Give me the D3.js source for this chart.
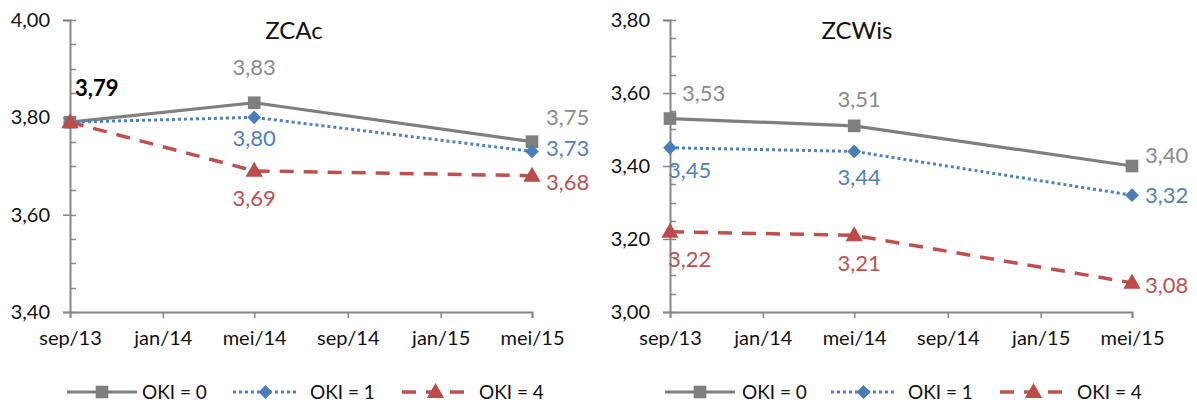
<!DOCTYPE html>
<html>
<head>
<meta charset="utf-8">
<script src="https://cdn.jsdelivr.net/npm/d3@7/dist/d3.min.js"></script>
<style>
  html, body { margin: 0; padding: 0; background: #fff; }
  svg { display: block; font-family: Lato, "Open Sans", sans-serif; }
</style>
</head>
<body>
<svg id="chart" width="1197" height="407"></svg>
<script>
// ---------------- data ----------------
const categories = ["2013-09-01", "2014-05-01", "2015-05-01"];
const tickDates = ["2013-09-01", "2014-01-01", "2014-05-01", "2014-09-01", "2015-01-01", "2015-05-01"];
const tickLabels = ["sep/13", "jan/14", "mei/14", "sep/14", "jan/15", "mei/15"];
const seriesNames = ["OKI = 0", "OKI = 1", "OKI = 4"];

const zcacTitle = "ZCAc";
const zcacOki0 = [3.79, 3.83, 3.75];
const zcacOki1 = [3.79, 3.80, 3.73];
const zcacOki4 = [3.79, 3.69, 3.68];
const zcacYTicks = [3.40, 3.60, 3.80, 4.00];

const zcwisTitle = "ZCWis";
const zcwisOki0 = [3.53, 3.51, 3.40];
const zcwisOki1 = [3.45, 3.44, 3.32];
const zcwisOki4 = [3.22, 3.21, 3.08];
const zcwisYTicks = [3.00, 3.20, 3.40, 3.60, 3.80];

// ---------------- styles ----------------
const parse = d3.timeParse("%Y-%m-%d");
const fmt = v => d3.format(".2f")(v).replace(".", ",");
const AXIS = "#868686";
const seriesStyle = [
  { line: "#7f7f7f", marker: "#7f7f7f", label: "#8a8a8a", dash: null, width: 3.2, symbol: "square" },
  { line: "#4f81bd", marker: "#4a7ebb", label: "#4f81bd", dash: "3 3", width: 3, symbol: "diamond" },
  { line: "#c0504d", marker: "#be4b48", label: "#c0504d", dash: "14 10", width: 3.5, symbol: "triangle" }
];

// label placements [series][point] : dx, dy, anchor  (null = no label; bold = combined label)
const zcacPlacement = [
  [{dx: 5, dy: -34, a: "start", bold: true}, {dx: 0, dy: -35, a: "middle"}, {dx: 14, dy: -24, a: "start"}],
  [null, {dx: 0, dy: 21, a: "middle"}, {dx: 14, dy: -3, a: "start"}],
  [null, {dx: 0, dy: 27, a: "middle"}, {dx: 14, dy: 7, a: "start"}]
];
const zcwisPlacement = [
  [{dx: 12, dy: -25, a: "start"}, {dx: 5, dy: -27, a: "middle"}, {dx: 13, dy: -11, a: "start"}],
  [{dx: -2, dy: 23, a: "start"}, {dx: 5, dy: 26, a: "middle"}, {dx: 13, dy: 0, a: "start"}],
  [{dx: -2, dy: 28, a: "start"}, {dx: 5, dy: 28, a: "middle"}, {dx: 13, dy: 2, a: "start"}]
];

const svg = d3.select("#chart");

function drawMarker(g, type, x, y, color) {
  let path;
  if (type === "square") {
    path = d3.symbol(d3.symbolSquare, 160)();
    g.append("path").attr("d", path).attr("transform", `translate(${x},${y})`).attr("fill", color);
  } else if (type === "diamond") {
    path = d3.symbol(d3.symbolSquare, 95)();
    g.append("path").attr("d", path).attr("transform", `translate(${x},${y}) rotate(45)`).attr("fill", color);
  } else {
    path = d3.symbol(d3.symbolTriangle, 130)();
    g.append("path").attr("d", path).attr("transform", `translate(${x},${y + 1})`).attr("fill", color);
  }
}

function drawChart(opt) {
  const g = svg.append("g");
  const x = d3.scaleTime()
    .domain([parse(tickDates[0]), parse(tickDates[tickDates.length - 1])])
    .range([opt.x0, opt.x1]);
  const y = d3.scaleLinear().domain(opt.yDomain).range([opt.yBottom, opt.yTop]);

  // minor ticks (inside)
  const minor = d3.range(opt.yDomain[0], opt.yDomain[1] + 1e-9, 0.05);
  g.append("g").selectAll("line").data(minor).join("line")
    .attr("x1", opt.x0).attr("x2", opt.x0 + 6)
    .attr("y1", d => Math.round(y(d)) + 0.5).attr("y2", d => Math.round(y(d)) + 0.5)
    .attr("stroke", AXIS).attr("stroke-width", 1.5);

  // y axis
  const ya = g.append("g").attr("transform", `translate(${opt.x0},0)`)
    .call(d3.axisLeft(y).tickValues(opt.yTicks).tickFormat(fmt).tickSizeOuter(0).tickSize(7).tickPadding(13));
  ya.select(".domain").attr("stroke", AXIS).attr("stroke-width", 2);
  ya.selectAll(".tick line").attr("stroke", AXIS).attr("stroke-width", 1.5);
  ya.selectAll(".tick text").attr("fill", "#111").style("font-size", "20px").style("font-family", "Lato, sans-serif");

  // x axis
  const xa = g.append("g").attr("transform", `translate(0,${opt.yBottom})`)
    .call(d3.axisBottom(x).tickValues(tickDates.map(parse))
      .tickFormat((d, i) => tickLabels[i]).tickSizeOuter(0).tickSize(6).tickPadding(13));
  xa.select(".domain").attr("stroke", AXIS).attr("stroke-width", 2);
  xa.selectAll(".tick line").attr("stroke", AXIS).attr("stroke-width", 1.5);
  xa.selectAll(".tick text").attr("fill", "#111").style("font-size", "20px").style("font-family", "Lato, sans-serif");

  // title
  g.append("text").attr("x", opt.titleX).attr("y", 39).attr("text-anchor", "middle")
    .style("font-size", "24px").attr("fill", "#111").text(opt.title);

  const line = d3.line().x((d, i) => x(parse(categories[i]))).y(d => y(d));

  opt.series.forEach((vals, si) => {
    const st = seriesStyle[si];
    g.append("path").datum(vals).attr("d", line).attr("fill", "none")
      .attr("stroke", st.line).attr("stroke-width", st.width)
      .attr("stroke-dasharray", st.dash).attr("stroke-linejoin", "round");
  });
  opt.series.forEach((vals, si) => {
    const st = seriesStyle[si];
    vals.forEach((v, i) => drawMarker(g, st.symbol, x(parse(categories[i])), y(v), st.marker));
  });
  // labels
  opt.series.forEach((vals, si) => {
    const st = seriesStyle[si];
    vals.forEach((v, i) => {
      const p = opt.placement[si][i];
      if (!p) return;
      g.append("text")
        .attr("x", x(parse(categories[i])) + p.dx)
        .attr("y", y(v) + p.dy)
        .attr("dy", "0.35em")
        .attr("text-anchor", p.a)
        .style("font-size", "22px")
        .style("font-weight", p.bold ? "bold" : "normal")
        .attr("fill", p.bold ? "#000" : st.label)
        .text(fmt(v));
    });
  });

  // legend
  const ly = 392;
  opt.legend.forEach((L, si) => {
    const st = seriesStyle[si];
    g.append("line").attr("x1", L.l0).attr("x2", L.l1).attr("y1", ly).attr("y2", ly)
      .attr("stroke", st.line).attr("stroke-width", st.width).attr("stroke-dasharray", st.dash);
    drawMarker(g, st.symbol, (L.l0 + L.l1) / 2, ly, st.marker);
    g.append("text").attr("x", L.t).attr("y", ly).attr("dy", "0.35em")
      .style("font-size", "19px").attr("fill", "#111").text(seriesNames[si]);
  });
}

drawChart({
  title: zcacTitle, titleX: 294,
  x0: 70, x1: 532, yTop: 20, yBottom: 312,
  yDomain: [3.40, 4.00], yTicks: zcacYTicks,
  series: [zcacOki0, zcacOki1, zcacOki4],
  placement: zcacPlacement,
  legend: [{l0: 67, l1: 137, t: 142}, {l0: 233, l1: 298, t: 310}, {l0: 402, l1: 469, t: 479}]
});
drawChart({
  title: zcwisTitle, titleX: 857,
  x0: 670, x1: 1132, yTop: 20, yBottom: 312,
  yDomain: [3.00, 3.80], yTicks: zcwisYTicks,
  series: [zcwisOki0, zcwisOki1, zcwisOki4],
  placement: zcwisPlacement,
  legend: [{l0: 665, l1: 735, t: 742}, {l0: 831, l1: 896, t: 908}, {l0: 1000, l1: 1067, t: 1077}]
});
</script>
</body>
</html>
